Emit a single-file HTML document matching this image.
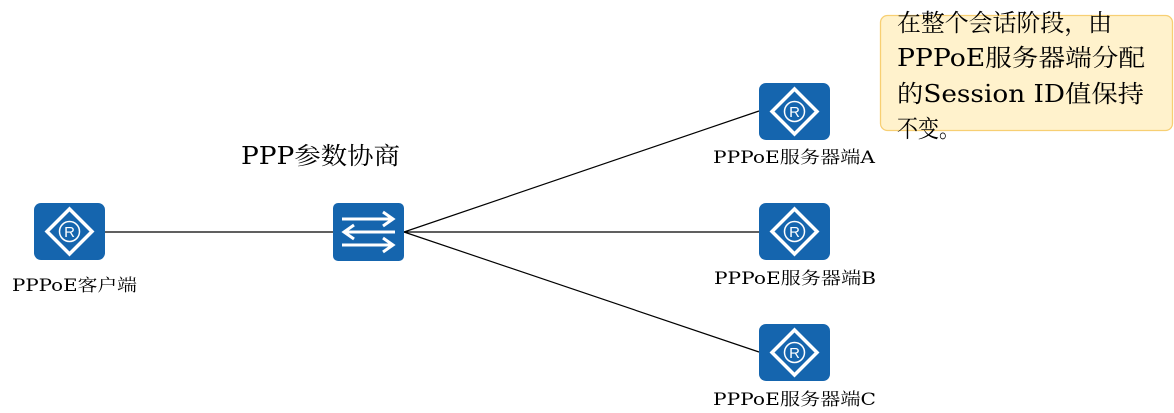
<!DOCTYPE html>
<html><head><meta charset="utf-8"><style>
body{margin:0;width:1174px;height:413px;background:#fff;overflow:hidden}
svg{position:absolute;left:0;top:0}
.t{font-family:"DejaVu Serif","Noto Serif CJK SC",serif;fill:#000}
</style></head><body>
<svg width="1174" height="413" viewBox="0 0 1174 413">
<defs>
<g id="r">
<rect x="0" y="0" width="71" height="57" rx="7" fill="#1565ae"/>
<polygon points="35.5,6 58,28.5 35.5,51 13,28.5" fill="none" stroke="#fff" stroke-width="3.5"/>
<circle cx="35.5" cy="28.5" r="10" fill="none" stroke="#fff" stroke-width="1.5"/>
<text x="35.5" y="34" text-anchor="middle" font-family="Liberation Sans,sans-serif" font-size="15" fill="#fff">R</text>
</g>
</defs>
<g stroke="#000" stroke-width="1.2">
<line x1="105" y1="232" x2="333" y2="232"/>
<line x1="404" y1="232" x2="759" y2="111"/>
<line x1="404" y1="232" x2="759" y2="232"/>
<line x1="404" y1="232" x2="759" y2="352"/>
</g>
<use href="#r" x="34" y="203"/>
<use href="#r" x="759" y="83"/>
<use href="#r" x="759" y="203"/>
<use href="#r" x="759" y="324"/>
<rect x="333" y="203" width="71" height="58" rx="5" fill="#1565ae"/>
<g stroke="#fff" stroke-width="3" fill="none">
<line x1="342" y1="219" x2="391" y2="219"/><polyline points="383,212 393,219 383,226"/>
<line x1="346" y1="232" x2="395" y2="232"/><polyline points="354,225 344,232 354,239"/>
<line x1="342" y1="245" x2="391" y2="245"/><polyline points="383,238 393,245 383,252"/>
</g>
<text class="t" x="12" y="291" font-size="17" textLength="125" lengthAdjust="spacingAndGlyphs">PPPoE客户端</text>
<text class="t" x="241" y="164" font-size="24" textLength="159" lengthAdjust="spacingAndGlyphs">PPP参数协商</text>
<text class="t" x="713" y="163" font-size="17" textLength="162" lengthAdjust="spacingAndGlyphs">PPPoE服务器端A</text>
<text class="t" x="714" y="284" font-size="17" textLength="162" lengthAdjust="spacingAndGlyphs">PPPoE服务器端B</text>
<text class="t" x="713" y="405" font-size="17" textLength="163" lengthAdjust="spacingAndGlyphs">PPPoE服务器端C</text>
<rect x="880.5" y="15.5" width="292" height="115" rx="7" fill="#fff2cc" stroke="#f7cf73" stroke-width="1.3"/>
<g class="t" font-size="24">
<text x="897" y="31" textLength="215" lengthAdjust="spacingAndGlyphs">在整个会话阶段，由</text>
<text x="897" y="66" textLength="248" lengthAdjust="spacingAndGlyphs">PPPoE服务器端分配</text>
<text x="897" y="102" textLength="247" lengthAdjust="spacingAndGlyphs">的Session ID值保持</text>
<text x="897" y="137" textLength="63" lengthAdjust="spacingAndGlyphs">不变。</text>
</g>
</svg>
</body></html>
